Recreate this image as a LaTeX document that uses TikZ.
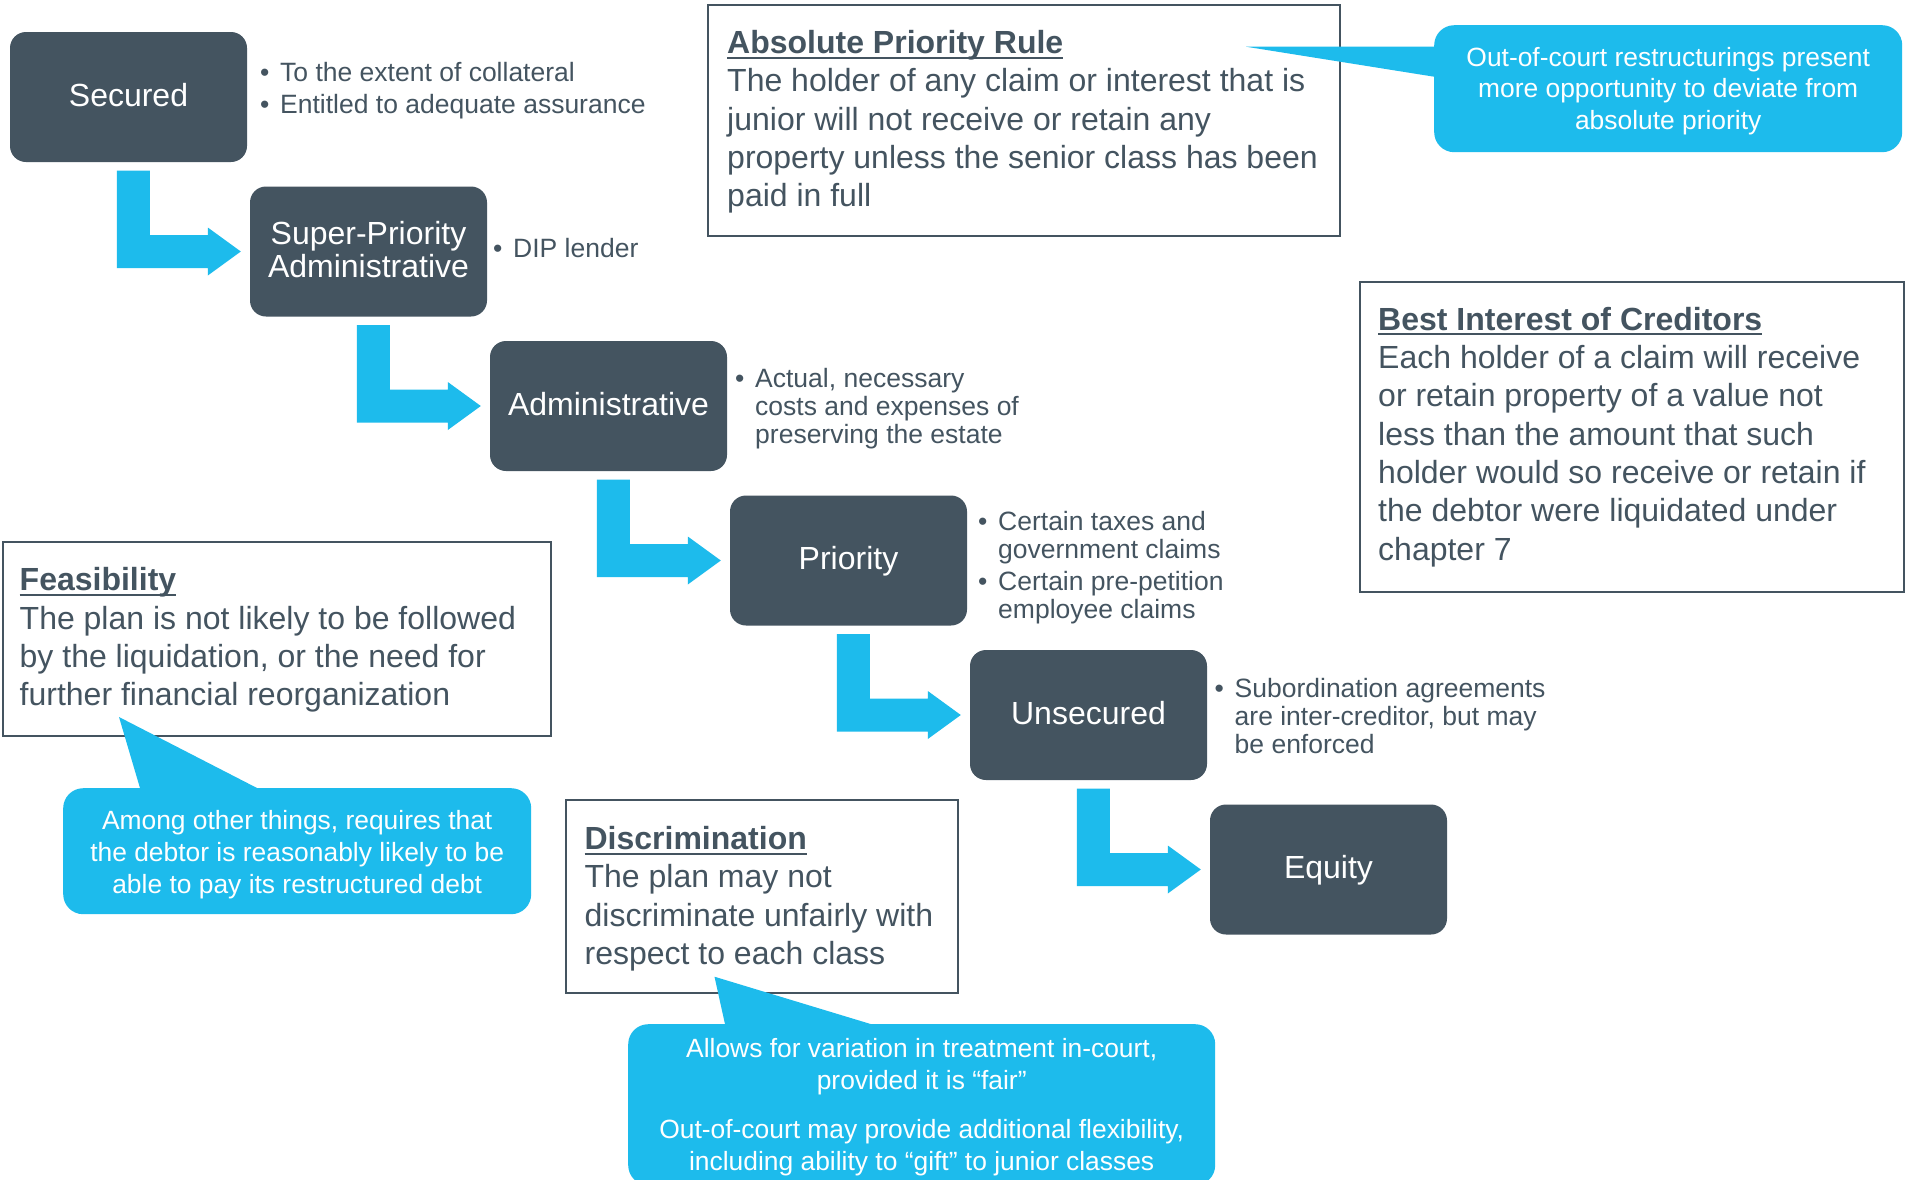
\documentclass[tikz,border=0pt]{standalone}
\usepackage{fontspec}
\setmainfont{Liberation Sans}
\usetikzlibrary{calc}
\definecolor{slate}{RGB}{68,84,96}
\definecolor{sky}{RGB}{29,187,236}
\newcommand{\ultitle}[1]{\setbox0\hbox{\bfseries #1}\rlap{\rule[-5pt]{\wd0}{2pt}}\box0}
\newcommand{\bul}{\makebox[20pt][l]{•}}
\newcommand{\cont}{\hspace*{20pt}}
\newcommand{\flowarrow}[2]{\fill[sky] ($(#1.south west)+(107,8.5)$) -- ++(33,0) |- ($(#2.west)+(-42,-16.5)$) -- ++(0,-7.5) -- ($(#2.west)+(-9,0)$) -- ($(#2.west)+(-42,24)$) -- ++(0,-7.5) -| ($(#1.south west)+(107,8.5)$) -- cycle;}
\begin{document}
\begin{tikzpicture}[x=1pt,y=-1pt,
  tier/.style={fill=slate, rounded corners=16pt, minimum width=237pt, minimum height=130pt, inner sep=0pt, text=white, align=center, font=\fontsize{32}{33}\selectfont},
  tierone/.style={tier, text height=24pt, text depth=6pt},
  panel/.style={draw=slate, line width=2pt, fill=white, anchor=north west, inner sep=0pt},
  paneltext/.style={anchor=north west, inner sep=0pt, align=left, text=slate, font=\fontsize{32}{38.3}\selectfont},
  bullets/.style={anchor=north west, inner sep=0pt, text=slate, font=\fontsize{26.5}{28}\selectfont},
  callout/.style={fill=sky, rounded corners=20pt, anchor=north west, inner sep=0pt},
  callouttext/.style={anchor=north, inner sep=0pt, align=center, text=white, font=\fontsize{26.4}{31.7}\selectfont},
]
\useasboundingbox[fill=white] (0,0) rectangle (1909,1179);

% tiers
\node[tierone] (sec) at (128.5,97) {Secured};
\node[tier] (sup) at (368.5,251.5) {Super-Priority\\Administrative\rule[-5pt]{0pt}{5pt}};
\node[tierone] (adm) at (608.5,406) {Administrative};
\node[tierone] (pri) at (848.5,560.5) {Priority};
\node[tierone] (uns) at (1088.5,715) {Unsecured};
\node[tierone] (equ) at (1328.5,869.5) {Equity};

\flowarrow{sec}{sup}
\flowarrow{sup}{adm}
\flowarrow{adm}{pri}
\flowarrow{pri}{uns}
\flowarrow{uns}{equ}

% bullet notes
\node[bullets] (secnote) at (260,61.4) {\begin{tabular}{@{}l@{}}\bul To the extent of collateral\\[4pt]\bul Entitled to adequate assurance\end{tabular}};
\node[bullets] (supnote) at (493,237.4) {\begin{tabular}{@{}l@{}}\bul DIP lender\end{tabular}};
\node[bullets] (admnote) at (735,367.9) {\begin{tabular}{@{}l@{}}\bul Actual, necessary\\\cont costs and expenses of\\\cont preserving the estate\end{tabular}};
\node[bullets] (prinote) at (978,510.9) {\begin{tabular}{@{}l@{}}\bul Certain taxes and\\\cont government claims\\[4pt]\bul Certain pre-petition\\\cont employee claims\end{tabular}};
\node[bullets] (unsnote) at (1214.5,677.4) {\begin{tabular}{@{}l@{}}\bul Subordination agreements\\\cont are inter-creditor, but may\\\cont be enforced\end{tabular}};

% panels
\node[panel, minimum width=632pt, minimum height=231.5pt] (apr) at (707,3.5) {};
\node[paneltext] (aprtext) at (727,26.5) {\strut\ultitle{Absolute Priority Rule}\\The holder of any claim or interest that is\\junior will not receive or retain any\\property unless the senior class has been\\paid in full};

\node[panel, minimum width=544pt, minimum height=309.5pt] (bic) at (1359,281) {};
\node[paneltext] (bictext) at (1378,303.2) {\strut\ultitle{Best Interest of Creditors}\\Each holder of a claim will receive\\or retain property of a value not\\less than the amount that such\\holder would so receive or retain if\\the debtor were liquidated under\\chapter 7};

\node[panel, minimum width=548.5pt, minimum height=194pt] (fea) at (1.5,540.6) {};
\node[paneltext] (featext) at (19.5,563.8) {\strut\ultitle{Feasibility}\\The plan is not likely to be followed\\by the liquidation, or the need for\\further financial reorganization};

\node[panel, minimum width=392pt, minimum height=193pt] (dis) at (565,799) {};
\node[paneltext] (distext) at (584.4,822.5) {\strut\ultitle{Discrimination}\\The plan may not\\discriminate unfairly with\\respect to each class};

% callouts
\coordinate (tipa) at (1246,46.7);
\fill[sky] (tipa) -- (1456,46.7) -- (1456,80.2) -- cycle;
\node[callout, minimum width=468pt, minimum height=127pt] (cala) at (1434,25) {};
\node[callouttext] (calatext) at (cala.center |- 0,43.8) {\strut Out-of-court restructurings present\\more opportunity to deviate from\\absolute priority};

\coordinate (tipb) at (119,717);
\fill[sky] (tipb) -- (145.9,808) -- (295.9,808) -- cycle;
\node[callout, minimum width=468pt, minimum height=126pt] (calb) at (63,788) {};
\node[callouttext] (calbtext) at (calb.center |- 0,807.3) {\strut Among other things, requires that\\the debtor is reasonably likely to be\\able to pay its restructured debt};

\coordinate (tipc) at (714.5,976.7);
\fill[sky] (tipc) -- (729.4,1044) -- (936.6,1044) -- cycle;
\node[callout, minimum width=587pt, minimum height=161pt] (calc) at (628,1024) {};
\node[callouttext] (calctext) at (calc.center |- 0,1035.1) {\strut Allows for variation in treatment in-court,\\provided it is “fair”\\[17.5pt]Out-of-court may provide additional flexibility,\\including ability to “gift” to junior classes};
\end{tikzpicture}
\end{document}
